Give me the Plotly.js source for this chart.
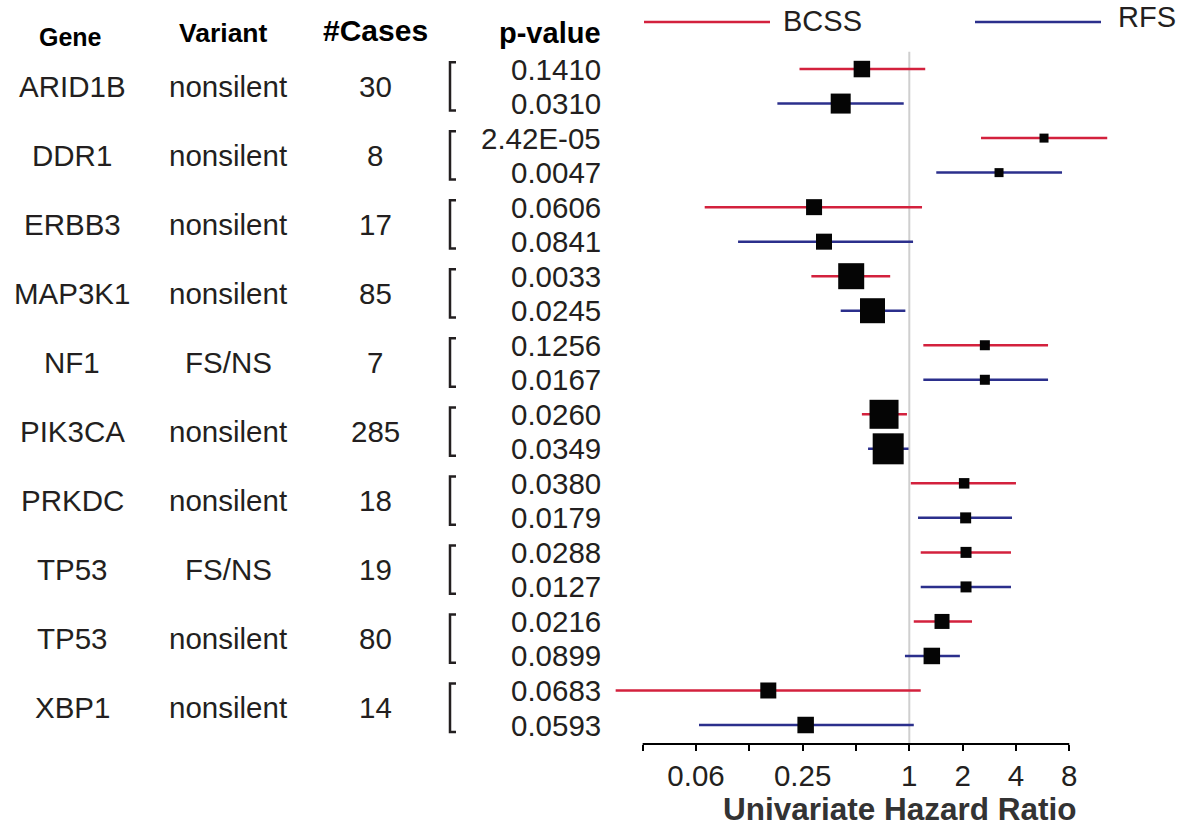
<!DOCTYPE html>
<html>
<head>
<meta charset="utf-8">
<script src="https://cdn.plot.ly/plotly-3.0.1.min.js"></script>
<style>html,body{margin:0;padding:0;background:#fff;}#chart{width:1189px;height:828px;}</style>
</head>
<body>
<div id="chart"></div>
<script>
// ---- data ----
const genes    = ['ARID1B','DDR1','ERBB3','MAP3K1','NF1','PIK3CA','PRKDC','TP53','TP53','XBP1'];
const variants = ['nonsilent','nonsilent','nonsilent','nonsilent','FS/NS','nonsilent','nonsilent','FS/NS','nonsilent','nonsilent'];
const cases    = [30, 8, 17, 85, 7, 285, 18, 19, 80, 14];
const pBCSS    = ['0.1410','2.42E-05','0.0606','0.0033','0.1256','0.0260','0.0380','0.0288','0.0216','0.0683'];
const pRFS     = ['0.0310','0.0047','0.0841','0.0245','0.0167','0.0349','0.0179','0.0127','0.0899','0.0593'];

const hrBCSS = [0.54, 5.76, 0.29, 0.47, 2.67, 0.72, 2.04, 2.09, 1.53, 0.16];
const loBCSS = [0.24, 2.54, 0.070, 0.28, 1.20, 0.54, 1.02, 1.16, 1.06, 0.022];
const hiBCSS = [1.23, 13.1, 1.18, 0.78, 6.07, 0.97, 4.00, 3.75, 2.26, 1.16];
const hrRFS  = [0.41, 3.21, 0.33, 0.62, 2.67, 0.76, 2.08, 2.09, 1.34, 0.26];
const loRFS  = [0.18, 1.42, 0.108, 0.41, 1.20, 0.585, 1.12, 1.16, 0.945, 0.065];
const hiRFS  = [0.93, 7.28, 1.05, 0.95, 6.07, 0.99, 3.80, 3.75, 1.93, 1.06];
// relative box weights (box sizes in the forest plot)
const wBCSS  = [16.5, 9, 16, 26, 10, 29, 10.5, 11, 15, 16];
const wRFS   = [20, 9, 16, 25, 10, 31, 11, 11, 16.5, 16.5];

const tickVals = [0.03125, 0.0625, 0.125, 0.25, 0.5, 1, 2, 4, 8];
const tickText = ['', '0.06', '', '0.25', '', '1', '2', '4', '8'];
const seriesNames = ['BCSS', 'RFS'];

// ---- styles ----
const W = 1189, H = 828;
const RED = '#d3213d', BLUE = '#2b2f8c', INK = '#231f20';
const FONT = 'Liberation Sans, Arial, sans-serif';
const px = x => x / W;
const py = y => 1 - y / H;
const boxScale = 1.0;

const rowB = genes.map((g, i) => 2 * i);
const rowR = genes.map((g, i) => 2 * i + 1);
const yBottom = 19.55;

function ciTrace(lo, hi, rows, color, name) {
  const x = [], y = [];
  lo.forEach((v, i) => { x.push(v, hi[i], null); y.push(rows[i], rows[i], null); });
  return {type: 'scatter', mode: 'lines', x, y, name, showlegend: false,
          line: {color, width: 2.5}, hoverinfo: 'skip'};
}
function boxTrace(hr, rows, w) {
  return {type: 'scatter', mode: 'markers', x: hr, y: rows, showlegend: false,
          marker: {symbol: 'square', color: '#050505', opacity: 1, size: w.map(v => v * boxScale), line: {width: 0}},
          cliponaxis: false, hoverinfo: 'skip'};
}

const data = [
  ciTrace(loBCSS, hiBCSS, rowB, RED, seriesNames[0]),
  ciTrace(loRFS, hiRFS, rowR, BLUE, seriesNames[1]),
  boxTrace(hrBCSS, rowB, wBCSS),
  boxTrace(hrRFS, rowR, wRFS)
];

const ann = [];
const txt = (text, x, y, opts = {}) => ann.push(Object.assign({
  text, x, y, xref: 'paper', yref: 'y', showarrow: false,
  xanchor: 'center', yanchor: 'middle',
  font: {family: FONT, size: 29.5, color: INK}
}, opts));

// headers
const hdr = (text, x, y, size) => ann.push({text: '<b>' + text + '</b>', x: px(x), y: py(y),
  xref: 'paper', yref: 'paper', showarrow: false, xanchor: 'center', yanchor: 'middle',
  font: {family: FONT, size, color: '#000'}});
hdr('Gene', 70, 37, 25);
hdr('Variant', 223, 33, 26.5);
hdr('#Cases', 375, 30, 30);
hdr('p-value', 550, 33, 29);

genes.forEach((g, i) => {
  const yc = 2 * i + 0.5;
  txt(g, px(72), yc);
  txt(variants[i], px(228), yc);
  txt(String(cases[i]), px(375), yc);
  txt(pBCSS[i], px(603), rowB[i], {xanchor: 'right'});
  txt(pRFS[i], px(603), rowR[i], {xanchor: 'right'});
});

// legend text
ann.push({text: seriesNames[0], x: px(781), y: py(21), xref: 'paper', yref: 'paper', showarrow: false,
  xanchor: 'left', yanchor: 'middle', font: {family: FONT, size: 29, color: INK}});
ann.push({text: seriesNames[1], x: px(1116), y: py(17), xref: 'paper', yref: 'paper', showarrow: false,
  xanchor: 'left', yanchor: 'middle', font: {family: FONT, size: 29, color: INK}});

// axis title
ann.push({text: '<b>Univariate Hazard Ratio</b>', x: px(900), y: py(809), xref: 'paper', yref: 'paper',
  showarrow: false, xanchor: 'center', yanchor: 'middle', font: {family: FONT, size: 31.5, color: '#333'}});

const shapes = [];
// reference line at HR = 1
shapes.push({type: 'line', xref: 'x', yref: 'y', x0: 1, x1: 1, y0: -0.5, y1: yBottom,
  line: {color: '#cfcfcf', width: 2}, layer: 'below'});
// axis line spanning the tick range
shapes.push({type: 'line', xref: 'x', yref: 'y domain', x0: tickVals[0], x1: tickVals[tickVals.length - 1],
  y0: 0, y1: 0, line: {color: '#000', width: 2}});
// brackets
genes.forEach((g, i) => {
  const t = 2 * i - 0.2, b = 2 * i + 1.2, xl = px(450), xr = px(456);
  shapes.push({type: 'path', xref: 'paper', yref: 'y',
    path: `M ${xr},${t} L ${xl},${t} L ${xl},${b} L ${xr},${b}`,
    line: {color: INK, width: 2.5}});
});
// legend lines
shapes.push({type: 'line', xref: 'paper', yref: 'paper', x0: px(644), x1: px(770), y0: py(22), y1: py(22),
  line: {color: RED, width: 2.5}});
shapes.push({type: 'line', xref: 'paper', yref: 'paper', x0: px(975), x1: px(1101), y0: py(22), y1: py(22),
  line: {color: BLUE, width: 2.5}});

const xPix0 = 612, xPix1 = 1188, xOne = 909.3, perDouble = 53.33;
const lg = p => ((p - xOne) / perDouble) * Math.log10(2);

const layout = {
  width: W, height: H,
  margin: {l: 0, r: 0, t: 0, b: 0},
  paper_bgcolor: '#fff', plot_bgcolor: 'rgba(0,0,0,0)',
  showlegend: false,
  xaxis: {
    type: 'log', domain: [xPix0 / W, xPix1 / W], range: [lg(xPix0), lg(xPix1)],
    tickmode: 'array', tickvals: tickVals, ticktext: tickText,
    ticks: 'outside', ticklen: 6, tickwidth: 2, tickcolor: '#000',
    showline: false, showgrid: false, zeroline: false,
    tickfont: {family: FONT, size: 29.5, color: INK}
  },
  yaxis: {
    range: [yBottom, -2.0], domain: [1 - 744 / H, 1],
    showticklabels: false, showgrid: false, zeroline: false, showline: false, ticks: ''
  },
  annotations: ann,
  shapes: shapes
};

Plotly.newPlot('chart', data, layout, {displayModeBar: false, staticPlot: true});
</script>
</body>
</html>
